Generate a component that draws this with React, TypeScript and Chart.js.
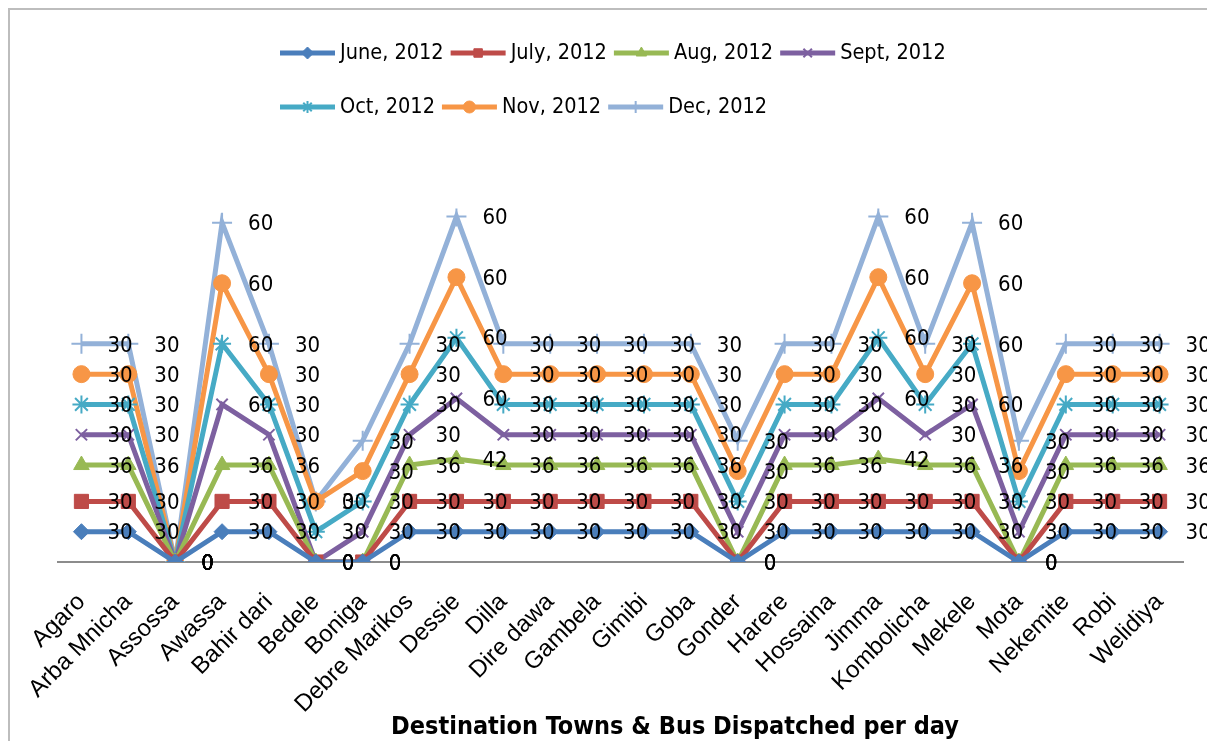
import React, { useEffect, useRef } from "react";
import { Chart, registerables } from "chart.js";
import { drawPoint } from "chart.js/helpers";

Chart.register(...registerables);

const categories = [
  "Agaro", "Arba Mnicha", "Assossa", "Awassa", "Bahir dari", "Bedele", "Boniga",
  "Debre Marikos", "Dessie", "Dilla", "Dire dawa", "Gambela", "Gimibi", "Goba",
  "Gonder", "Harere", "Hossaina", "Jimma", "Kombolicha", "Mekele", "Mota",
  "Nekemite", "Robi", "Welidiya",
];

const seriesNames = [
  "June, 2012", "July, 2012", "Aug, 2012", "Sept, 2012", "Oct, 2012", "Nov, 2012", "Dec, 2012",
];

const june = [30, 30, 0, 30, 30, 0, 0, 30, 30, 30, 30, 30, 30, 30, 0, 30, 30, 30, 30, 30, 0, 30, 30, 30];
const july = [30, 30, 0, 30, 30, 0, 0, 30, 30, 30, 30, 30, 30, 30, 0, 30, 30, 30, 30, 30, 0, 30, 30, 30];
const aug = [36, 36, 0, 36, 36, 0, 0, 36, 42, 36, 36, 36, 36, 36, 0, 36, 36, 42, 36, 36, 0, 36, 36, 36];
const sept = [30, 30, 0, 60, 30, 0, 30, 30, 60, 30, 30, 30, 30, 30, 30, 30, 30, 60, 30, 60, 30, 30, 30, 30];
const oct = [30, 30, 0, 60, 30, 30, 30, 30, 60, 30, 30, 30, 30, 30, 30, 30, 30, 60, 30, 60, 30, 30, 30, 30];
const nov = [30, 30, 0, 60, 30, 30, 30, 30, 60, 30, 30, 30, 30, 30, 30, 30, 30, 60, 30, 60, 30, 30, 30, 30];
const dec = [30, 30, 0, 60, 30, 0, 30, 30, 60, 30, 30, 30, 30, 30, 30, 30, 30, 60, 30, 60, 30, 30, 30, 30];

const seriesValues = [june, july, aug, sept, oct, nov, dec];

const colors = ["#4A7EBB", "#BE4B48", "#98B954", "#7D60A0", "#46AAC5", "#F79646", "#93B1D8"];
const pointStyles = ["rectRot", "rect", "triangle", "crossRot", "star", "circle", "cross"];
const pointRadii = [8, 10, 9, 8, 9, 8.5, 10];
const pointBorders = [1, 1, 1, 2, 2, 1, 2];

const TITLE = "Destination Towns & Bus Dispatched per day";

const NARROW = '"Liberation Sans Narrow", "Arial Narrow", "DejaVu Sans Condensed", "Liberation Sans", sans-serif';
const REGULAR = '"Liberation Sans", Arial, sans-serif';

const dataLabelPlugin = {
  id: "dataLabels",
  afterDatasetsDraw(chart: any) {
    const ctx = chart.ctx;
    ctx.save();
    ctx.font = `22px ${NARROW}`;
    ctx.fillStyle = "#000";
    ctx.textAlign = "left";
    ctx.textBaseline = "middle";
    chart.data.datasets.forEach((ds: any, di: number) => {
      const meta = chart.getDatasetMeta(di);
      meta.data.forEach((pt: any, i: number) => {
        ctx.fillText(String(ds.data[i]), pt.x + 26, pt.y + 2);
      });
    });
    ctx.restore();
  },
};

const legendPlugin = {
  id: "customLegend",
  afterDraw(chart: any) {
    const ctx = chart.ctx;
    const rows = [[0, 1, 2, 3], [4, 5, 6]];
    const rowY = [43, 97];
    ctx.save();
    ctx.font = `21.5px ${NARROW}`;
    ctx.textAlign = "left";
    ctx.textBaseline = "middle";
    rows.forEach((row, r) => {
      let x = 270;
      const y = rowY[r];
      row.forEach((idx) => {
        const c = colors[idx];
        ctx.strokeStyle = c;
        ctx.fillStyle = c;
        ctx.lineWidth = 5;
        ctx.beginPath();
        ctx.moveTo(x, y);
        ctx.lineTo(x + 55, y);
        ctx.stroke();
        ctx.lineWidth = pointBorders[idx];
        drawPoint(ctx, { pointStyle: pointStyles[idx], radius: 6, rotation: 0, borderWidth: pointBorders[idx] } as any, x + 27.5, y);
        ctx.fillStyle = "#000";
        ctx.fillText(seriesNames[idx], x + 60, y);
        x += 60 + ctx.measureText(seriesNames[idx]).width + 7;
      });
    });
    ctx.restore();
  },
};

const titlePlugin = {
  id: "bottomTitle",
  afterDraw(chart: any) {
    const ctx = chart.ctx;
    ctx.save();
    ctx.font = `bold 25px ${NARROW}`;
    ctx.fillStyle = "#000";
    ctx.textAlign = "center";
    ctx.textBaseline = "middle";
    ctx.fillText(TITLE, 665, 717);
    ctx.restore();
  },
};

export default function App() {
  const ref = useRef<HTMLCanvasElement>(null);
  useEffect(() => {
    if (!ref.current) return;
    const chart = new Chart(ref.current, {
      type: "line",
      data: {
        labels: categories,
        datasets: seriesValues.map((vals, i) => ({
          label: seriesNames[i],
          data: vals,
          borderColor: colors[i],
          backgroundColor: colors[i],
          borderWidth: 5,
          pointStyle: pointStyles[i] as any,
          pointRadius: pointRadii[i],
          pointBackgroundColor: colors[i],
          pointBorderColor: colors[i],
          pointBorderWidth: pointBorders[i],
          fill: false,
          tension: 0,
        })),
      },
      options: {
        responsive: false,
        animation: false,
        layout: { padding: { top: 198.5, left: 48, right: 26, bottom: 0 } },
        plugins: {
          legend: { display: false },
          tooltip: { enabled: false },
          title: { display: false },
        },
        scales: {
          x: {
            type: "category",
            offset: true,
            grid: { display: false },
            border: { display: true, color: "#8c8c8c", width: 2 },
            ticks: {
              autoSkip: false,
              minRotation: 45,
              maxRotation: 45,
              padding: 18,
              color: "#000",
              font: { family: REGULAR, size: 24 },
            },
            afterFit: (s: any) => {
              s.height = 179;
            },
          },
          y: {
            display: false,
            stacked: true,
            min: 0,
            max: 350,
          },
        },
      },
      plugins: [dataLabelPlugin, legendPlugin, titlePlugin],
    });
    return () => chart.destroy();
  }, []);

  return (
    <div
      style={{
        width: 1199,
        height: 731,
        borderTop: "2px solid #bdbdbd",
        borderLeft: "2px solid #bdbdbd",
        borderRight: "2px solid #bdbdbd",
        background: "#fff",
        overflow: "hidden",
      }}
    >
      <canvas ref={ref} width={1199} height={731} style={{ display: "block" }} />
    </div>
  );
}
